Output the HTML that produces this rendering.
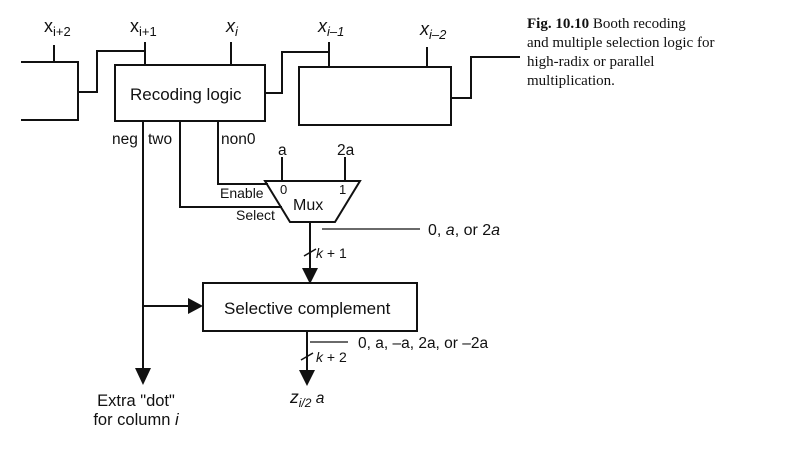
<!DOCTYPE html>
<html><head><style>
body{margin:0;background:#fff}
</style></head><body>
<svg width="798" height="451" viewBox="0 0 798 451" xmlns="http://www.w3.org/2000/svg" style="display:block">
<g stroke="#111" stroke-width="2" fill="none">
<polyline points="21,62 78,62 78,120 21,120"/>
<line x1="54" y1="45" x2="54" y2="62"/>
<polyline points="78,92 97,92 97,51 145,51"/>
<line x1="145" y1="42" x2="145" y2="65"/>
<rect x="115" y="65" width="150" height="56"/>
<line x1="231" y1="42" x2="231" y2="65"/>
<polyline points="265,93 282,93 282,52 329,52"/>
<line x1="329" y1="42" x2="329" y2="67"/>
<rect x="299" y="67" width="152" height="58"/>
<line x1="427" y1="47" x2="427" y2="68"/>
<polyline points="451,98 471,98 471,57 520,57"/>
<line x1="143" y1="121" x2="143" y2="370"/>
<polyline points="180,121 180,207 282,207"/>
<polyline points="218,121 218,184 268,184"/>
<polygon points="265,181 360,181 335,222 290,222"/>
<line x1="282" y1="157" x2="282" y2="181"/>
<line x1="345" y1="157" x2="345" y2="181"/>
<line x1="310" y1="222" x2="310" y2="270"/>
<line x1="322" y1="229" x2="420" y2="229" stroke-width="1.3"/>
<line x1="304" y1="256" x2="316" y2="249" stroke-width="1.5"/>
<rect x="203" y="283" width="214" height="48"/>
<line x1="143" y1="306" x2="190" y2="306"/>
<line x1="307" y1="331" x2="307" y2="372"/>
<line x1="310" y1="342" x2="348" y2="342" stroke-width="1.3"/>
<line x1="301" y1="360" x2="313" y2="353" stroke-width="1.5"/>
</g>
<g fill="#111">
<polygon points="302,268 318,268 310,284"/>
<polygon points="188,298 188,314 203,306"/>
<polygon points="299,370 315,370 307,386"/>
<polygon points="135,368 151,368 143,385"/>
</g>
<g font-family="Liberation Sans, sans-serif" fill="#111">
<text x="44" y="32" font-size="18">x<tspan font-size="13" dy="4">i+2</tspan></text>
<text x="130" y="32" font-size="18">x<tspan font-size="13" dy="4">i+1</tspan></text>
<text x="226" y="32" font-size="18" font-style="italic">x<tspan font-size="13" dy="4">i</tspan></text>
<text x="318" y="32" font-size="18" font-style="italic">x<tspan font-size="13" dy="4">i–1</tspan></text>
<text x="420" y="35" font-size="18" font-style="italic">x<tspan font-size="13" dy="4">i–2</tspan></text>
<text x="130" y="100" font-size="17">Recoding logic</text>
<text x="112" y="144" font-size="15.5">neg</text>
<text x="148" y="144" font-size="15.5">two</text>
<text x="221" y="144" font-size="15.5">non0</text>
<text x="278" y="155" font-size="15.5">a</text>
<text x="337" y="155" font-size="15.5">2a</text>
<text x="220" y="198" font-size="14">Enable</text>
<text x="236" y="220" font-size="14">Select</text>
<text x="280" y="194" font-size="13">0</text>
<text x="339" y="194" font-size="13">1</text>
<text x="293" y="210" font-size="16">Mux</text>
<text x="428" y="235" font-size="16">0, <tspan font-style="italic">a</tspan>, or 2<tspan font-style="italic">a</tspan></text>
<text x="316" y="258" font-size="14"><tspan font-style="italic">k</tspan> + 1</text>
<text x="224" y="314" font-size="17">Selective complement</text>
<text x="358" y="348" font-size="15.5">0, a, –a, 2a, or –2a</text>
<text x="316" y="362" font-size="14"><tspan font-style="italic">k</tspan> + 2</text>
<text x="290" y="403" font-size="17.5" font-style="italic">z<tspan font-size="12" dy="4">i/2</tspan><tspan dy="-4" font-size="15.5"> a</tspan></text>
<text x="136" y="406" font-size="16.5" text-anchor="middle">Extra "dot"</text>
<text x="136" y="425" font-size="16.5" text-anchor="middle">for column <tspan font-style="italic">i</tspan></text>
</g>
<g font-family="Liberation Serif, serif" font-size="15" fill="#111">
<text x="527" y="28"><tspan font-weight="bold">Fig. 10.10</tspan>   Booth recoding</text>
<text x="527" y="47">and multiple selection logic for</text>
<text x="527" y="66">high-radix or parallel</text>
<text x="527" y="85">multiplication.</text>
</g>
</svg>
</body></html>
